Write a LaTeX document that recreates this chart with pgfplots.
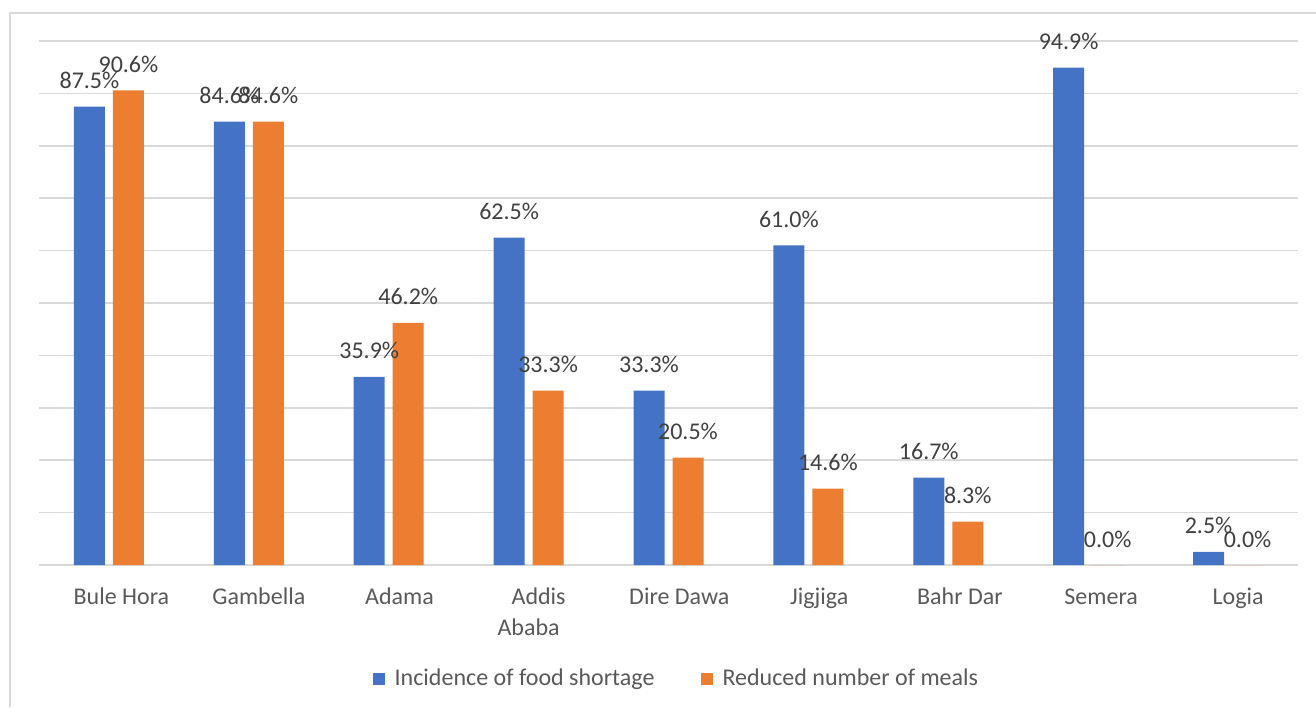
\documentclass[border=0pt]{standalone}
\usepackage{pgfplots}
\pgfplotsset{compat=1.18}
\usepackage{fontspec}
\setmainfont{Carlito}
\definecolor{cblue}{HTML}{4472C4}
\definecolor{corange}{HTML}{ED7D31}
\definecolor{cgrid}{HTML}{D9D9D9}
\definecolor{ctick}{HTML}{595959}
\definecolor{clabel}{HTML}{404040}
\newcommand{\lead}[1]{\hspace*{#1}}
\begin{document}
\begin{tikzpicture}
\path[use as bounding box] (0,0) rectangle (789.6pt,424.2pt);
\draw[cgrid, line width=0.8pt] (6pt,0) -- (6pt,416.4pt) -- (789.6pt,416.4pt);
\begin{axis}[
  at={(23.4pt,85.2pt)}, anchor=south west,
  scale only axis, width=755.4pt, height=314.4pt,
  xmin=-0.5, xmax=8.5, ymin=0, ymax=100,
  ytick={0,10,...,100}, yticklabels={},
  ymajorgrids, grid style={cgrid, line width=1pt},
  axis line style={draw=none},
  major tick length=0pt,
  clip=false,
  xtick={0,...,8},
  xticklabels={{\lead{15pt}Bule Hora},{\lead{12pt}Gambella},{\lead{13pt}Adama},{\begin{tabular}[t]{@{}c@{}}\lead{12pt}Addis\\Ababa\end{tabular}},{\lead{13pt}Dire Dawa},{\lead{13pt}Jigjiga},{\lead{14pt}Bahr Dar},{\lead{15.6pt}Semera},{\lead{12pt}Logia}},
  xticklabel style={font=\fontsize{14.4}{18.6}\selectfont, text=ctick, anchor=base, inner sep=0pt, yshift=-23.4pt},
  ybar=4.8pt, bar width=18.6pt,
  /pgf/number format/assume math mode=true,
  nodes near coords={\pgfmathprintnumber[fixed,fixed zerofill,precision=1]{\pgfplotspointmeta}\%},
  every node near coord/.append style={font=\fontsize{14.4}{17}\selectfont, text=clabel, anchor=base, inner sep=0pt, yshift=10.8pt},
  legend columns=2,
  legend style={draw=none, fill=none, at={(0.2653,-0.2166)}, anchor=west, inner sep=0pt,
    font=\fontsize{14.4}{17}\selectfont, text=ctick, cells={anchor=west},
    /tikz/every odd column/.append style={column sep=3.6pt},
    /tikz/every even column/.append style={column sep=26pt}},
  legend image code/.code={\fill[#1] (0pt,-3.6pt) rectangle (7.2pt,3.6pt);},
]
\addplot[fill=cblue, draw=none] coordinates {(0,87.5) (1,84.6) (2,35.9) (3,62.5) (4,33.3) (5,61.0) (6,16.7) (7,94.9) (8,2.5)};
\addplot[fill=corange, draw=none] coordinates {(0,90.6) (1,84.6) (2,46.2) (3,33.3) (4,20.5) (5,14.6) (6,8.3) (7,0.0) (8,0.0)};
\legend{Incidence of food shortage, Reduced number of meals}
\end{axis}
\end{tikzpicture}
\end{document}
